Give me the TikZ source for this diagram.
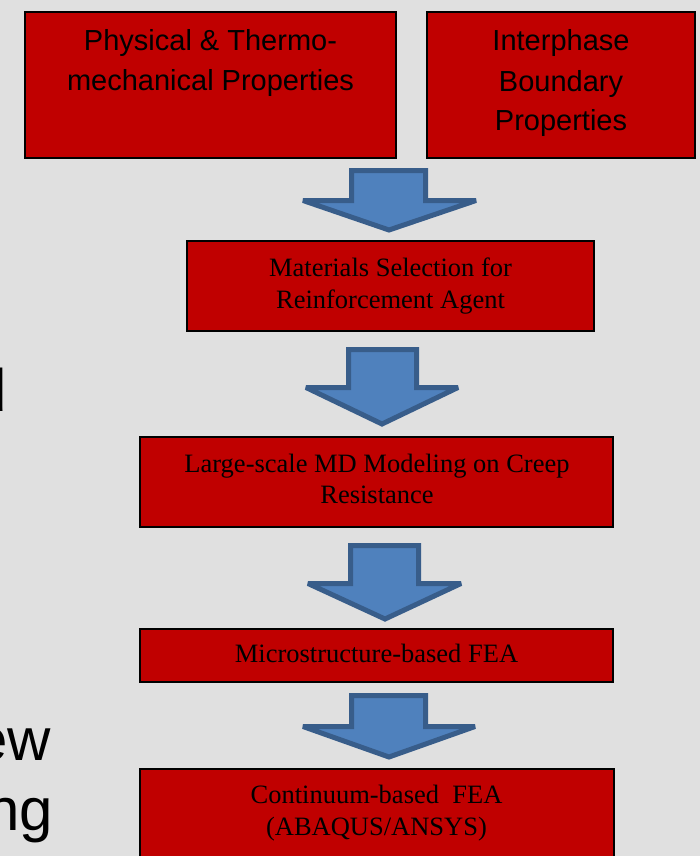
\documentclass[tikz,border=0pt]{standalone}
\usepackage{fontspec}
\setmainfont{Liberation Serif}
\newfontfamily\arialf{Liberation Sans}
\definecolor{bg}{HTML}{E0E0E0}
\definecolor{boxred}{HTML}{C00000}
\definecolor{arrfill}{HTML}{4F81BD}
\definecolor{arredge}{HTML}{385D8A}
\begin{document}
\begin{tikzpicture}[x=1pt,y=-1pt,
  redbox/.style={draw=black,fill=boxred,line width=2pt},
  sanslbl/.style={anchor=base,inner sep=0pt,font=\arialf\fontsize{29}{40}\selectfont},
  seriflbl/.style={anchor=base,inner sep=0pt,font=\fontsize{26.5}{32}\selectfont},
  biglbl/.style={anchor=base east,inner sep=0pt,font=\arialf\fontsize{60}{70}\selectfont},
  blockarrow/.style={fill=arrfill,draw=arredge,line width=5pt,line join=miter,miter limit=2}]
\fill[bg] (0,0) rectangle (700,856);
\useasboundingbox (0,0) rectangle (700,856);
\clip (0,0) rectangle (700,856);

% cropped slide text at the left edge
\node[biglbl] (ld) at (7,411) {d};
\node[biglbl] (lew) at (51,760) {ew};
\node[biglbl] (lng) at (53,830) {ng};

% boxes
\path[redbox] (25,12) rectangle (396,158);
\path[redbox] (427,12) rectangle (695,158);
\path[redbox] (187,241) rectangle (594,331);
\path[redbox] (140,437) rectangle (613,527);
\path[redbox] (140,629) rectangle (613,682);
\path[redbox] (140,769) rectangle (614,870);

% texts
\node[sanslbl] (t1a) at (210.5,51) {Physical \& Thermo-};
\node[sanslbl] (t1b) at (210.5,91) {mechanical Properties};
\node[sanslbl] (t2a) at (561,51) {Interphase};
\node[sanslbl] (t2b) at (561,92) {Boundary};
\node[sanslbl] (t2c) at (561,131) {Properties};
\node[seriflbl] (t3a) at (390.5,276) {Materials Selection for};
\node[seriflbl] (t3b) at (390.5,308) {Reinforcement Agent};
\node[seriflbl] (t4a) at (377,472) {Large-scale MD Modeling on Creep};
\node[seriflbl] (t4b) at (377,503) {Resistance};
\node[seriflbl] (t5a) at (376.5,662) {Microstructure-based FEA};
\node[seriflbl] (t6a) at (376.5,803) {Continuum-based\ \ FEA};
\node[seriflbl] (t6b) at (376.5,835) {(ABAQUS/ANSYS)};

% block arrows
\draw[blockarrow] (351.5,170.5) -- (425.5,170.5) -- (425.5,200.5) -- (476,200.5)
  -- (389,230) -- (303,200.5) -- (351.5,200.5) -- cycle;
\draw[blockarrow] (348.5,349.5) -- (416.5,349.5) -- (416.5,387.5) -- (458,387.5)
  -- (382,424) -- (306,387.5) -- (348.5,387.5) -- cycle;
\draw[blockarrow] (350.5,545.5) -- (418.5,545.5) -- (418.5,583.5) -- (461,583.5)
  -- (385,619) -- (308,583.5) -- (350.5,583.5) -- cycle;
\draw[blockarrow] (351.5,695.5) -- (425.5,695.5) -- (425.5,726.5) -- (475,726.5)
  -- (389,757) -- (303,726.5) -- (351.5,726.5) -- cycle;
\end{tikzpicture}
\end{document}
